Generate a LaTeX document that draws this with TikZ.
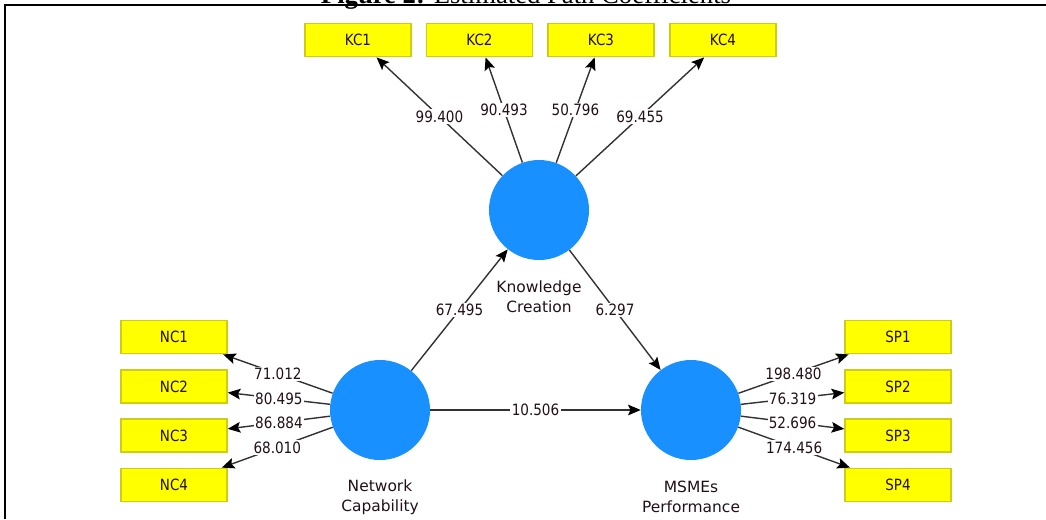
\documentclass[tikz,border=0pt]{standalone}
\usepackage{fontspec}
\setmainfont{Liberation Serif}
\newfontfamily\uifont{DejaVu Sans}
\newfontfamily\uinarrow[FakeStretch=0.87]{DejaVu Sans}
\usetikzlibrary{arrows.meta}

\definecolor{lvblue}{RGB}{24,144,255}
\definecolor{indfill}{RGB}{255,255,0}
\definecolor{indedge}{RGB}{205,205,20}
\definecolor{pathgray}{RGB}{50,50,50}
\definecolor{txt}{RGB}{35,15,25}

\begin{document}
\begin{tikzpicture}[x=0.75pt,y=-0.75pt,
  indicator/.style={draw=indedge, line width=1.1pt, fill=indfill,
    minimum width=79.5pt, minimum height=25pt, inner sep=0pt,
    font=\uinarrow\fontsize{11.6}{13}\selectfont, text=txt},
  latent/.style={circle, fill=lvblue, minimum size=75pt, inner sep=0pt},
  latentname/.style={align=center, inner sep=0pt,
    font=\uifont\fontsize{11.6}{15}\selectfont, text=txt},
  coef/.style={fill=white, inner sep=1pt,
    font=\uinarrow\fontsize{11.7}{13}\selectfont, text=txt},
  link/.style={draw=pathgray, line width=1.05pt,
    -{Stealth[length=9.5pt,width=8pt,inset=1.8pt,color=black]}},
]

\useasboundingbox (0,0) rectangle (1046,519);
\clip (0,0) rectangle (1046,519);

% caption and page frame
\node[anchor=base, inner sep=0pt, font=\fontsize{20}{24}\selectfont] (caption)
  at (526,3) {\textbf{Figure 2:} Estimated Path Coefficients};
\draw[line width=1.5pt] (1046,5) -- (5,5) -- (5,519);

% latent variables
\node[latent] (kc) at (539,210) {};
\node[latent] (nc) at (380,410) {};
\node[latent] (sp) at (691,410) {};

\node[latentname] (kcname) at (539,297) {Knowledge\\Creation};
\node[latentname] (ncname) at (380,497) {Network\\Capability};
\node[latentname] (spname) at (691,497) {MSMEs\\Performance};

% indicators
\node[indicator] (kc1) at (358,40) {KC1};
\node[indicator] (kc2) at (479.5,40) {KC2};
\node[indicator] (kc3) at (601,40) {KC3};
\node[indicator] (kc4) at (723,40) {KC4};

\node[indicator] (nc1) at (174,337) {NC1};
\node[indicator] (nc2) at (174,386.5) {NC2};
\node[indicator] (nc3) at (174,435.5) {NC3};
\node[indicator] (nc4) at (174,485) {NC4};

\node[indicator] (sp1) at (898,337) {SP1};
\node[indicator] (sp2) at (898,386.5) {SP2};
\node[indicator] (sp3) at (898,435.5) {SP3};
\node[indicator] (sp4) at (898,485) {SP4};

% outer loadings
\draw[link] (kc) -- node[coef, midway] {99.400} (kc1);
\draw[link] (kc) -- node[coef, midway] {90.493} (kc2);
\draw[link] (kc) -- node[coef, midway] {50.796} (kc3);
\draw[link] (kc) -- node[coef, midway] {69.455} (kc4);

\draw[link] (nc) -- node[coef, midway] {71.012} (nc1);
\draw[link] (nc) -- node[coef, midway] {80.495} (nc2);
\draw[link] (nc) -- node[coef, midway] {86.884} (nc3);
\draw[link] (nc) -- node[coef, midway] {68.010} (nc4);

\draw[link] (sp) -- node[coef, midway] {198.480} (sp1);
\draw[link] (sp) -- node[coef, midway] {76.319} (sp2);
\draw[link] (sp) -- node[coef, midway] {52.696} (sp3);
\draw[link] (sp) -- node[coef, midway] {174.456} (sp4);

% structural paths
\draw[link] (nc) -- node[coef, midway] {67.495} (kc);
\draw[link] (kc) -- node[coef, midway] {6.297} (sp);
\draw[link] (nc) -- node[coef, midway] {10.506} (sp);

\end{tikzpicture}
\end{document}
